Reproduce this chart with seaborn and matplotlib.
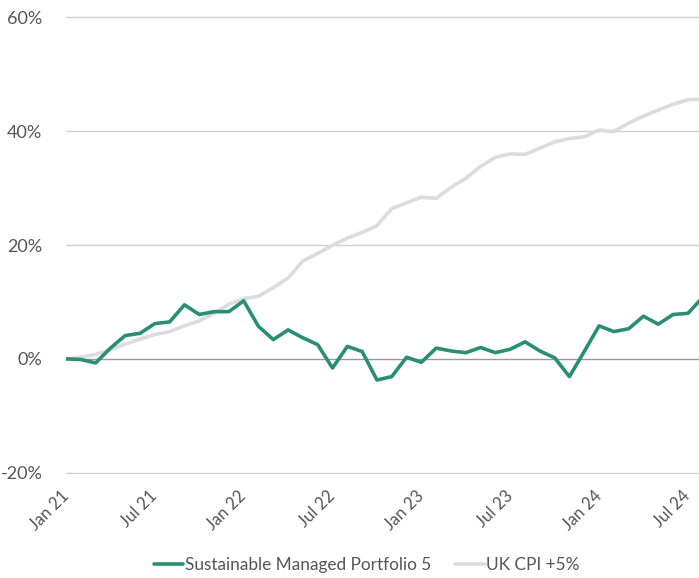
import matplotlib
matplotlib.use("Agg")
import matplotlib.pyplot as plt
import seaborn as sns
import pandas as pd
from matplotlib.lines import Line2D

months = ["Jan 21","Feb 21","Mar 21","Apr 21","May 21","Jun 21","Jul 21","Aug 21","Sep 21","Oct 21","Nov 21","Dec 21",
          "Jan 22","Feb 22","Mar 22","Apr 22","May 22","Jun 22","Jul 22","Aug 22","Sep 22","Oct 22","Nov 22","Dec 22",
          "Jan 23","Feb 23","Mar 23","Apr 23","May 23","Jun 23","Jul 23","Aug 23","Sep 23","Oct 23","Nov 23","Dec 23",
          "Jan 24","Feb 24","Mar 24","Apr 24","May 24","Jun 24","Jul 24","Aug 24"]

portfolio = [0.0, -0.1, -0.7, 1.9, 4.1, 4.5, 6.2, 6.5, 9.5, 7.8, 8.3, 8.3,
             10.2, 5.7, 3.4, 5.1, 3.7, 2.5, -1.6, 2.2, 1.3, -3.7, -3.1, 0.3,
             -0.6, 1.9, 1.4, 1.1, 2.0, 1.1, 1.7, 3.0, 1.4, 0.2, -3.1, 1.3,
             5.8, 4.8, 5.3, 7.5, 6.1, 7.8, 8.0, 10.8]

cpi = [0.0, 0.3, 0.8, 1.6, 2.6, 3.5, 4.3, 4.8, 5.8, 6.7, 8.0, 9.6,
       10.6, 11.0, 12.5, 14.2, 17.2, 18.5, 20.0, 21.2, 22.2, 23.4, 26.4, 27.4,
       28.4, 28.2, 30.1, 31.7, 33.8, 35.4, 36.0, 35.9, 37.0, 38.1, 38.7, 39.0,
       40.2, 39.9, 41.4, 42.6, 43.7, 44.7, 45.5, 45.6]

series_names = ["Sustainable Managed Portfolio 5", "UK CPI +5%"]
yticks = [-20, 0, 20, 40, 60]
ytick_labels = ["-20%", "0%", "20%", "40%", "60%"]

GREEN = "#2a8f71"
GREY = "#dcdcdc"
TEXT = "#555555"

df = pd.DataFrame({
    "idx": list(range(len(months))) * 2,
    "value": portfolio + cpi,
    "series": [series_names[0]] * len(months) + [series_names[1]] * len(months),
})

sns.set_theme(style="white")
plt.rcParams["font.family"] = ["Lato", "DejaVu Sans"]

fig = plt.figure(figsize=(6.99, 5.78), dpi=100)
ax = fig.add_axes([66/699, 1 - 474/578, 1 - 66/699, (474 - 16)/578])

# draw CPI first so portfolio sits on top
sns.lineplot(data=df, x="idx", y="value", hue="series",
             hue_order=series_names[::-1], palette=[GREY, GREEN],
             linewidth=2.6, ax=ax, legend=False)

ax.set_xlim(0, 42.75)
ax.set_ylim(-20.2, 60.2)

for y in yticks:
    if y != 0:
        ax.axhline(y, color="#cfcfcf", lw=1.0, zorder=0)

for s in ["top", "right", "left"]:
    ax.spines[s].set_visible(False)
ax.spines["bottom"].set_position(("data", 0))
ax.spines["bottom"].set_color("#9a9a9a")
ax.spines["bottom"].set_linewidth(1.0)
ax.spines["bottom"].set_zorder(1)

ax.set_yticks(yticks)
ax.set_yticklabels(ytick_labels)
ax.tick_params(axis="y", length=0, pad=17, labelsize=13, labelcolor=TEXT)

xt = list(range(0, len(months), 6))
ax.set_xticks(xt)
ax.set_xticklabels([months[i] for i in xt], rotation=45, ha="right",
                   rotation_mode="anchor", va="center")
ax.tick_params(axis="x", length=4, width=1, color="#9a9a9a", direction="out",
               pad=93, labelsize=12, labelcolor=TEXT)

ax.set_xlabel("")
ax.set_ylabel("")

handles = [Line2D([], [], color=GREEN, lw=2.6), Line2D([], [], color=GREY, lw=2.6)]
leg = fig.legend(handles, series_names, loc="center", bbox_to_anchor=(367/699, 1 - 565/578),
                 ncol=2, frameon=False, fontsize=12.4, handlelength=1.7,
                 handletextpad=0.1, columnspacing=1.4, labelcolor=TEXT)

fig.savefig("out.png", dpi=100)
